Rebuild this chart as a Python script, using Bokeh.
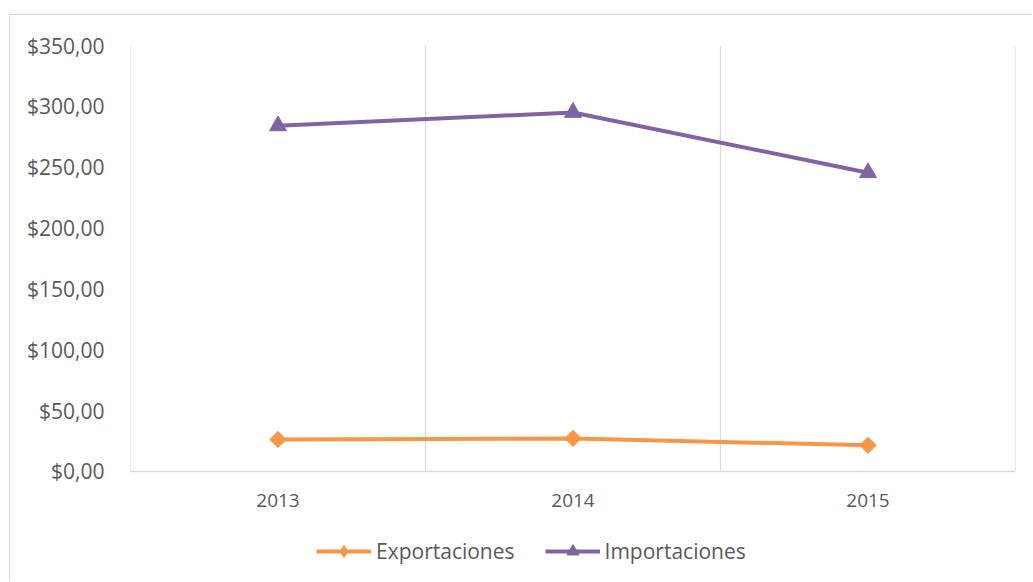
import numpy as np
from bokeh.plotting import figure
from bokeh.models import FixedTicker, Range1d, Legend, LegendItem, ColumnDataSource
from bokeh.embed import file_html
from bokeh.resources import INLINE

years = ["2013", "2014", "2015"]
exportaciones = [26.3, 27.2, 21.5]
importaciones = [284.0, 295.0, 245.5]
y_ticks = [0, 50, 100, 150, 200, 250, 300, 350]
y_labels = ["$0,00", "$50,00", "$100,00", "$150,00", "$200,00", "$250,00", "$300,00", "$350,00"]

x_pos = list(np.arange(len(years)) + 0.5)
src = ColumnDataSource(dict(x=x_pos, exp=exportaciones, imp=importaciones))
bounds = list(range(len(years) + 1))
grid_src = ColumnDataSource(dict(x=bounds, y0=[y_ticks[0]] * len(bounds), y1=[y_ticks[-1]] * len(bounds)))

FONT = "Open Sans"
TXT = "#595959"
GRID = "#d9d9d9"
ORANGE = "#F79646"
PURPLE = "#8064A2"

# frame extends below zero so that the legend can sit inside it
p = figure(width=1023, height=567, output_backend="svg", toolbar_location=None,
           x_range=Range1d(0, len(years)), y_range=Range1d(-91.2, 350),
           min_border_left=120, min_border_right=18, min_border_top=30, min_border_bottom=0)
p.styles = {"margin-top": "14px", "margin-left": "9px",
            "border-top": "1px solid #d9d9d9", "border-left": "1px solid #d9d9d9"}
p.outline_line_color = None
p.background_fill_color = "white"
p.border_fill_color = "white"

# axes
p.yaxis.ticker = FixedTicker(ticks=y_ticks)
p.yaxis.major_label_overrides = {t: l for t, l in zip(y_ticks, y_labels)}
p.yaxis.axis_line_color = None
p.yaxis.major_tick_line_color = None
p.yaxis.minor_tick_line_color = None
p.yaxis.major_label_text_font = FONT
p.yaxis.major_label_text_font_size = "21px"
p.yaxis.major_label_text_color = TXT
p.yaxis.major_label_standoff = 20

p.xaxis.fixed_location = 0
p.xaxis.ticker = FixedTicker(ticks=x_pos)
p.xaxis.major_label_overrides = {x: y for x, y in zip(x_pos, years)}
p.xaxis.axis_line_color = GRID
p.xaxis.axis_line_width = 1.5
p.xaxis.major_tick_line_color = None
p.xaxis.minor_tick_line_color = None
p.xaxis.major_label_text_font = FONT
p.xaxis.major_label_text_font_size = "19px"
p.xaxis.major_label_text_color = TXT
p.xaxis.major_label_standoff = 17

p.xgrid.grid_line_color = None
p.ygrid.grid_line_color = None
p.segment(x0="x", y0="y0", x1="x", y1="y1", source=grid_src, line_color=GRID, line_width=1.2)

# series
l1 = p.line("x", "exp", source=src, line_color=ORANGE, line_width=4)
m1 = p.scatter("x", "exp", source=src, marker="square", angle=np.pi / 4, size=11.5,
               fill_color=ORANGE, line_color=ORANGE)
# diamond used only for the legend sample (zero size in the plot)
m1_leg = p.scatter("x", "exp", source=src, marker="diamond", size=0,
                   fill_color=ORANGE, line_color=ORANGE, line_width=1)
l2 = p.line("x", "imp", source=src, line_color=PURPLE, line_width=4)
m2 = p.scatter("x", "imp", source=src, marker="triangle", size=17, fill_color=PURPLE, line_color=PURPLE)

legend = Legend(items=[LegendItem(label="Exportaciones", renderers=[l1, m1_leg]),
                       LegendItem(label="Importaciones", renderers=[l2, m2])],
                orientation="horizontal", location=(186, 16))
legend.label_text_font = FONT
legend.label_text_font_size = "21px"
legend.label_text_color = TXT
legend.glyph_width = 55
legend.glyph_height = 30
legend.label_standoff = 5
legend.spacing = 30
legend.border_line_color = None
legend.background_fill_alpha = 0
legend.margin = 0
legend.padding = 4
p.add_layout(legend, "center")

open("out.html", "w").write(file_html(p, INLINE))
